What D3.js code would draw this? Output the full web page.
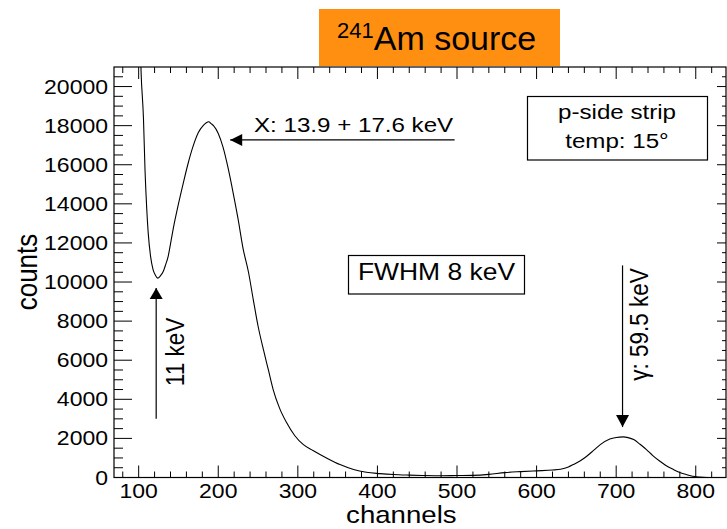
<!DOCTYPE html>
<html><head><meta charset="utf-8">
<script src="https://cdn.jsdelivr.net/npm/d3@7"></script>
<style>
body{margin:0;background:#fff}
svg{display:block}
text{font-family:"Liberation Sans",Arial,Helvetica,sans-serif;fill:#000}
</style>
</head><body>
<svg id="chart" width="727" height="529"></svg>
<script>
// ---- data ----
const channels = [101,103,106,108,110,112,115,118,121,124,127,131,134,137,140,144,150,156,162,168,175,181,185,188,191,194,200,206,212,219,225,231,238,244,250,257,263,269,277,286,296,307,319,336,353,370,386,403,420,440,460,480,500,520,540,560,580,600,620,630,640,646,655,663,672,680,692,700,709,715,722,730,738,746,755,763,772,780,788,796,805,815];
const counts   = [24000,20800,18400,15700,13850,12500,11300,10650,10350,10200,10300,10550,10900,11300,11950,12850,14000,15050,16050,16900,17650,18000,18150,18200,18100,18000,17600,16900,15900,14500,13200,11750,10500,9100,7750,6500,5500,4500,3550,2800,2150,1680,1380,1000,660,410,270,200,150,120,100,90,100,110,160,250,300,340,380,420,540,660,860,1090,1400,1680,1970,2050,2080,2040,1940,1700,1430,1120,830,600,410,250,150,60,20,0];

const xTickValues = [100,200,300,400,500,600,700,800];
const yTickValues = [0,2000,4000,6000,8000,10000,12000,14000,16000,18000,20000];
const xLabel = "channels";
const yLabel = "counts";
const titleIso = "241";
const titleMain = "Am source";
const infoLines = ["p-side strip", "temp: 15°"];
const fwhmLabel = "FWHM 8 keV";
const xrayLabel = "X: 13.9 + 17.6 keV";
const lowLabel = "11 keV";
const gammaLabel = "γ: 59.5 keV";

// ---- layout ----
const svg = d3.select("#chart");
const L = 114, R = 726, T = 67, B = 477.5;
const SX = 1.15; // horizontal stretch of the embedded chart's text
const x = d3.scaleLinear().domain([69, 838]).range([L, R]);
const y = d3.scaleLinear().domain([0, 21000]).range([B, T]);

// title box
svg.append("rect").attr("x",319).attr("y",9).attr("width",241).attr("height",57).attr("fill","#ff8f10");
const tt = svg.append("text").attr("x",337).attr("y",49.5);
tt.append("tspan").attr("font-size",22).attr("dy",-11.5).text(titleIso);
tt.append("tspan").attr("font-size",34).attr("dy",11.5).text(titleMain);

// clip
svg.append("clipPath").attr("id","clip").append("rect")
  .attr("x",L).attr("y",T).attr("width",R-L).attr("height",B-T);

// curve
const pts = channels.map((c,i)=>[c,counts[i]]);
svg.append("path").datum(pts)
  .attr("clip-path","url(#clip)")
  .attr("fill","none").attr("stroke","#000").attr("stroke-width",1.1)
  .attr("d", d3.line().x(d=>x(d[0])).y(d=>y(d[1])).curve(d3.curveMonotoneX));

// ticks
const g = svg.append("g").attr("stroke","#000").attr("stroke-width",1);
const xMinor = d3.range(80, 838, 20).filter(v=>v%100!==0);
const yMinor = d3.range(500, 21000, 500).filter(v=>v%2000!==0);
xTickValues.forEach(v=>{
  g.append("line").attr("x1",x(v)).attr("x2",x(v)).attr("y1",B).attr("y2",B-12);
  g.append("line").attr("x1",x(v)).attr("x2",x(v)).attr("y1",T).attr("y2",T+12);
});
xMinor.forEach(v=>{
  g.append("line").attr("x1",x(v)).attr("x2",x(v)).attr("y1",B).attr("y2",B-6);
  g.append("line").attr("x1",x(v)).attr("x2",x(v)).attr("y1",T).attr("y2",T+6);
});
yTickValues.forEach(v=>{
  g.append("line").attr("x1",L).attr("x2",L+18).attr("y1",y(v)).attr("y2",y(v));
  g.append("line").attr("x1",R).attr("x2",R-9).attr("y1",y(v)).attr("y2",y(v));
});
yMinor.forEach(v=>{
  g.append("line").attr("x1",L).attr("x2",L+9).attr("y1",y(v)).attr("y2",y(v));
  g.append("line").attr("x1",R).attr("x2",R-4).attr("y1",y(v)).attr("y2",y(v));
});

// frame
svg.append("rect").attr("x",L).attr("y",T).attr("width",R-L).attr("height",B-T)
  .attr("fill","none").attr("stroke","#000").attr("stroke-width",1.2);

// tick labels
svg.append("g").selectAll("text").data(xTickValues).join("text")
  .attr("transform",d=>`translate(${x(d)},498) scale(${SX},1)`)
  .attr("text-anchor","middle").attr("font-size",20).text(d=>d);
svg.append("g").selectAll("text").data(yTickValues).join("text")
  .attr("transform",d=>`translate(108,${y(d)+7}) scale(${SX},1)`)
  .attr("text-anchor","end").attr("font-size",20).text(d=>d);

// axis titles
svg.append("text").attr("transform",`translate(${(x(400)+x(450))/2+4},523) scale(${SX},1)`)
  .attr("text-anchor","middle").attr("font-size",24).text(xLabel);
svg.append("text").attr("transform",`translate(37,272) scale(${SX},1) rotate(-90)`)
  .attr("text-anchor","middle").attr("font-size",26).text(yLabel);

// arrows
function arrow(x1,y1,x2,y2,len,hw){
  svg.append("line").attr("x1",x1).attr("y1",y1).attr("x2",x2).attr("y2",y2)
    .attr("stroke","#000").attr("stroke-width",1.2);
  const a = Math.atan2(y2-y1,x2-x1);
  const bx = x2 - len*Math.cos(a), by = y2 - len*Math.sin(a);
  const px = -Math.sin(a)*hw, py = Math.cos(a)*hw;
  svg.append("path").attr("d",`M${x2},${y2}L${bx+px},${by+py}L${bx-px},${by-py}Z`).attr("fill","#000");
}
// X-ray peak arrow
arrow(x(497), y(17270), x(215), y(17270), 12, 6);
svg.append("text").attr("transform",`translate(254,131.5) scale(${SX},1)`)
  .attr("font-size",21).text(xrayLabel);
// 11 keV arrow
arrow(x(122), y(3000), x(122), y(9700), 11, 6.5);
svg.append("text").attr("transform",`translate(183.5,352) scale(${SX},1) rotate(-90)`)
  .attr("text-anchor","middle").attr("font-size",22.5).text(lowLabel);
// gamma arrow
arrow(x(708), y(10850), x(708), y(2580), 12, 6.5);
svg.append("text").attr("transform",`translate(648,324.5) scale(${SX},1) rotate(-90)`)
  .attr("text-anchor","middle").attr("font-size",22.5).text(gammaLabel);

// FWHM box
svg.append("rect").attr("x",348.5).attr("y",255.5).attr("width",176).attr("height",38.5)
  .attr("fill","#fff").attr("stroke","#000").attr("stroke-width",1.2);
svg.append("text").attr("transform",`translate(436.5,280) scale(${SX},1)`)
  .attr("text-anchor","middle").attr("font-size",23).text(fwhmLabel);

// info box
svg.append("rect").attr("x",527.5).attr("y",96.5).attr("width",180).attr("height",63.5)
  .attr("fill","#fff").attr("stroke","#000").attr("stroke-width",1.2);
svg.append("g").selectAll("text").data(infoLines).join("text")
  .attr("transform",(d,i)=>`translate(617,${118.5+i*29}) scale(${SX},1)`)
  .attr("text-anchor","middle").attr("font-size",21).text(d=>d);
</script>
</body></html>
